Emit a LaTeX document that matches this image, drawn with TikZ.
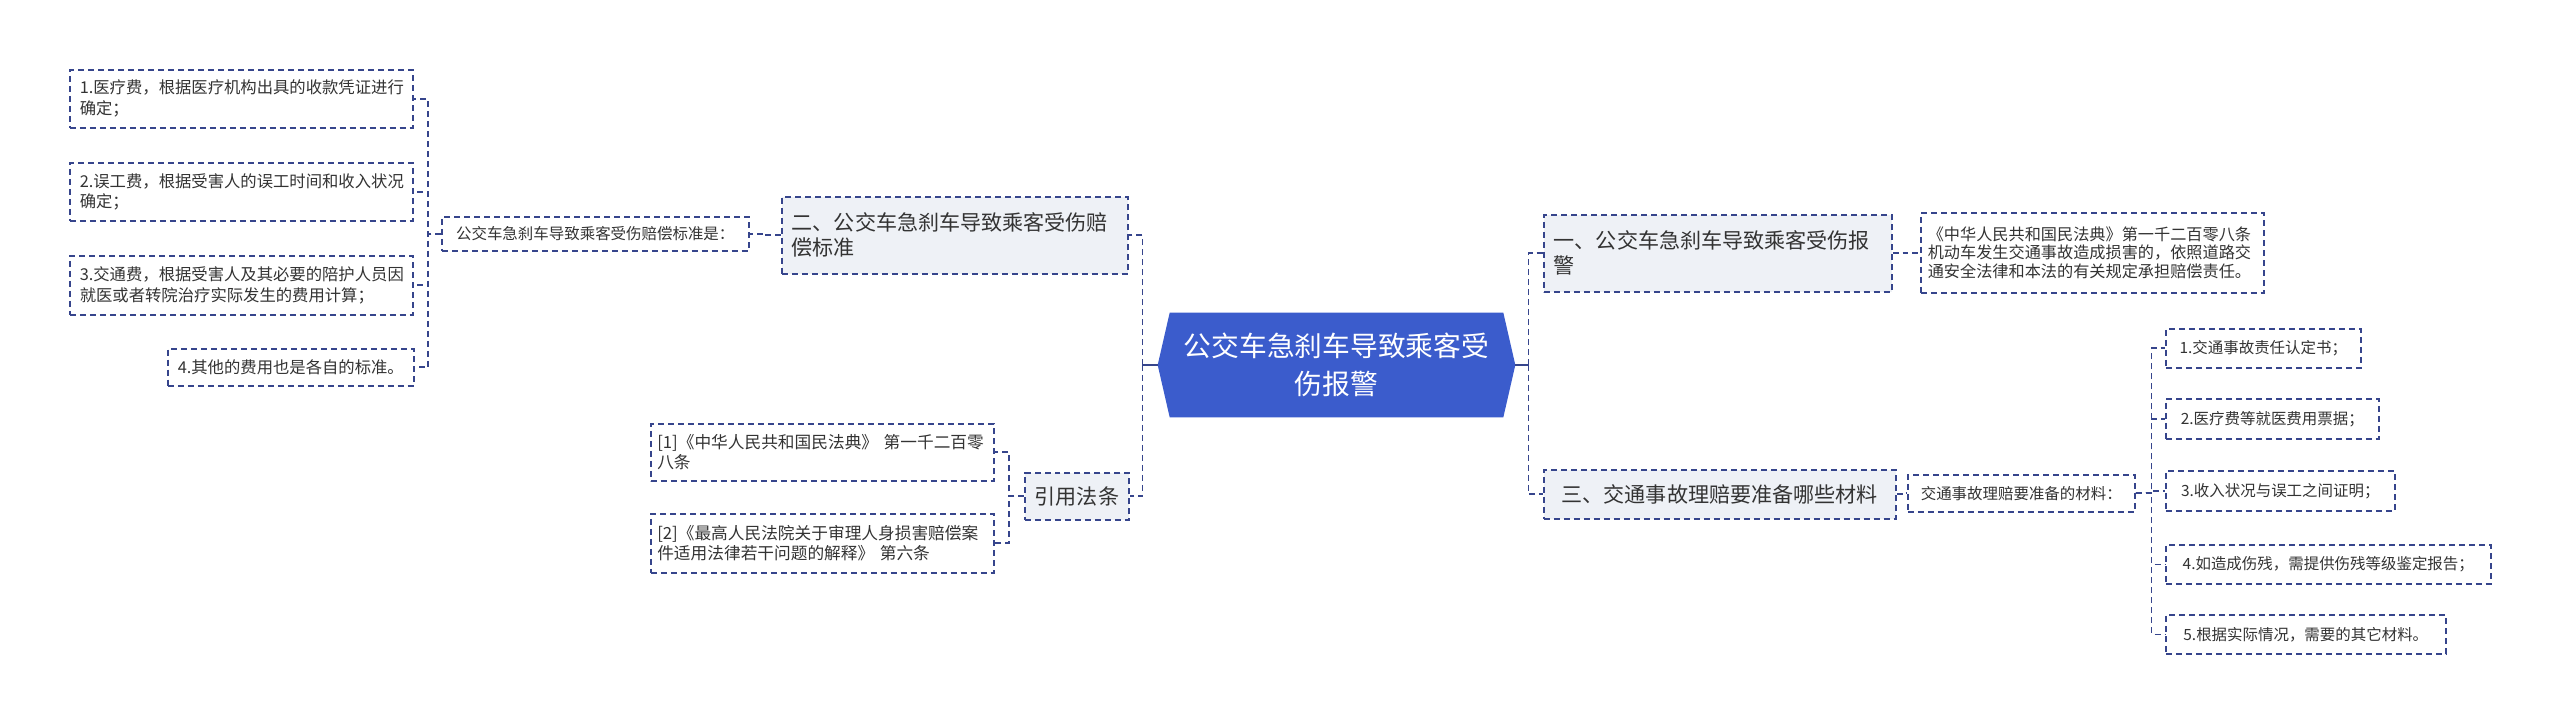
\documentclass[tikz,border=0pt]{standalone}
\usepackage{fontspec}
\setmainfont{Noto Sans CJK SC}
\usetikzlibrary{backgrounds, calc}
\definecolor{linkblue}{HTML}{36458C}
\definecolor{topicbg}{HTML}{EEF1F6}
\definecolor{rootblue}{HTML}{3B5CCC}
\definecolor{textgray}{HTML}{333333}
\tikzset{
  link/.style={draw=linkblue, line width=0.9pt, dash pattern=on 0.12cm off 0.08cm},
  rootlink/.style={draw=linkblue, line width=1.1pt},
  leafbox/.style={link, fill=white, text=textgray, align=left, anchor=north west, inner xsep=0.2cm, inner ysep=0pt},
  topicbox/.style={leafbox, fill=topicbg},
}

\begin{document}
\begin{tikzpicture}[x=0.02cm, y=-0.02cm]
  \useasboundingbox (0,0) rectangle (2560,723);

  % 中心主题
  \node[text=white, align=center, minimum width=7.14cm, minimum height=2.08cm, font=\fontsize{15.8}{21.5}\selectfont] (root) at (1336.5,365) {公交车急刹车导致乘客受\\伤报警};
  \begin{scope}[on background layer]
    \fill[white] (0,0) rectangle (2560,723);
    \fill[rootblue] (root.west) -- ($(root.north west)+(12,0)$) -- ($(root.north east)+(-12,0)$) -- (root.east) -- ($(root.south east)+(-12,0)$) -- ($(root.south west)+(12,0)$) -- cycle;
  \end{scope}

  % 二、赔偿标准
  \node[topicbox, text width=6.52cm, minimum height=1.54cm, font=\fontsize{12}{14.2}\selectfont] (er) at (781,196) {二、公交车急刹车导致乘客受伤赔\\偿标准};
  \node[leafbox, minimum width=6.14cm, minimum height=0.68cm, font=\fontsize{8.8}{10.5}\selectfont] (std) at (441,216) {公交车急刹车导致乘客受伤赔偿标准是：};
  \node[leafbox, text width=6.46cm, minimum height=1.16cm, font=\fontsize{9.3}{11.8}\selectfont] (l1) at (69,69) {1.医疗费，根据医疗机构出具的收款凭证进行\\确定；};
  \node[leafbox, text width=6.46cm, minimum height=1.16cm, font=\fontsize{9.3}{11.8}\selectfont] (l2) at (69,162) {2.误工费，根据受害人的误工时间和收入状况\\确定；};
  \node[leafbox, text width=6.46cm, minimum height=1.18cm, font=\fontsize{9.3}{11.8}\selectfont] (l3) at (69,255) {3.交通费，根据受害人及其必要的陪护人员因\\就医或者转院治疗实际发生的费用计算；};
  \node[leafbox, minimum width=4.9cm, minimum height=0.74cm, font=\fontsize{9.3}{11.8}\selectfont] (l4) at (167,348) {4.其他的费用也是各自的标准。};

  % 引用法条
  \node[topicbox, minimum width=2.06cm, minimum height=0.94cm, font=\fontsize{12}{14.2}\selectfont] (yin) at (1024,472) {引用法条};
  \node[leafbox, inner xsep=0.13cm, text width=6.6cm, minimum height=1.14cm, font=\fontsize{9.5}{11.4}\selectfont] (c1) at (650,423) {[1]《中华人民共和国民法典》~第一千二百零\\八条};
  \node[leafbox, inner xsep=0.13cm, text width=6.6cm, minimum height=1.18cm, font=\fontsize{9.5}{11.4}\selectfont] (c2) at (650,513) {[2]《最高人民法院关于审理人身损害赔偿案\\件适用法律若干问题的解释》~第六条};

  % 一、报警
  \node[topicbox, text width=6.56cm, minimum height=1.54cm, font=\fontsize{12}{14.2}\selectfont] (yi) at (1543,214) {一、公交车急刹车导致乘客受伤报\\警};
  \node[leafbox, inner xsep=0.14cm, text width=6.58cm, minimum height=1.6cm, font=\fontsize{9.2}{10.6}\selectfont] (law) at (1920,212) {《中华人民共和国民法典》第一千二百零八条\\机动车发生交通事故造成损害的，依照道路交\\通安全法律和本法的有关规定承担赔偿责任。};

  % 三、理赔材料
  \node[topicbox, minimum width=7.04cm, minimum height=0.98cm, font=\fontsize{12}{14.2}\selectfont] (san) at (1543,469) {三、交通事故理赔要准备哪些材料};
  \node[leafbox, minimum width=4.54cm, minimum height=0.74cm, font=\fontsize{8.8}{10.5}\selectfont] (cl) at (1907,474) {交通事故理赔要准备的材料：};
  \node[leafbox, minimum width=3.9cm, minimum height=0.78cm, font=\fontsize{8.8}{10.5}\selectfont] (r1) at (2165,328) {1.交通事故责任认定书；};
  \node[leafbox, minimum width=4.26cm, minimum height=0.8cm, font=\fontsize{8.8}{10.5}\selectfont] (r2) at (2165,398) {2.医疗费等就医费用票据；};
  \node[leafbox, minimum width=4.58cm, minimum height=0.8cm, font=\fontsize{8.8}{10.5}\selectfont] (r3) at (2165,470) {3.收入状况与误工之间证明；};
  \node[leafbox, minimum width=6.5cm, minimum height=0.78cm, font=\fontsize{8.8}{10.5}\selectfont] (r4) at (2165,544) {4.如造成伤残，需提供伤残等级鉴定报告；};
  \node[leafbox, minimum width=5.6cm, minimum height=0.78cm, font=\fontsize{8.8}{10.5}\selectfont] (r5) at (2165,614) {5.根据实际情况，需要的其它材料。};

  % 左侧连线
  \draw[rootlink] (root.west) -- ++(-15,0) coordinate (ltrunk);
  \draw[link] (ltrunk) |- (er.east);
  \draw[link] (ltrunk) |- (yin.east);
  \draw[link] (er.west) -- ++(-16,0) |- (std.east);
  \draw[link] (std.west) -- ++(-13,0) |- (l1.east);
  \draw[link] (std.west) -- ++(-13,0) |- (l2.east);
  \draw[link] (std.west) -- ++(-13,0) |- (l3.east);
  \draw[link] (std.west) -- ++(-13,0) |- (l4.east);
  \draw[link] (yin.west) -- ++(-15,0) |- (c1.east);
  \draw[link] (yin.west) -- ++(-15,0) |- (c2.east);

  % 右侧连线
  \draw[rootlink] (root.east) -- ++(13,0) coordinate (rtrunk);
  \draw[link] (rtrunk) |- (yi.west);
  \draw[link] (rtrunk) |- (san.west);
  \draw[link] (yi.east) -- ++(14,0) |- (law.west);
  \draw[link] (san.east) -- ++(6,0) |- (cl.west);
  \draw[link] (cl.east) -- ++(16,0) |- (r1.west);
  \draw[link] (cl.east) -- ++(16,0) |- (r2.west);
  \draw[link] (cl.east) -- ++(16,0) |- (r3.west);
  \draw[link] (cl.east) -- ++(16,0) |- (r4.west);
  \draw[link] (cl.east) -- ++(16,0) |- (r5.west);
\end{tikzpicture}
\end{document}
